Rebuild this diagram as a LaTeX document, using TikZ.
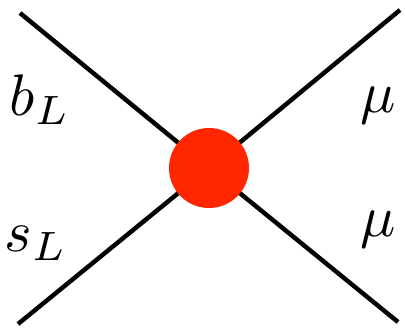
\documentclass[tikz,border=0pt]{standalone}
\usepackage{amsmath}
\usetikzlibrary{calc}
\definecolor{vertexred}{RGB}{255,38,0}
\tikzset{biglabel/.style={scale=5, inner sep=0pt}}

\begin{document}
\begin{tikzpicture}[x=0.03cm, y=-0.03cm]
  \useasboundingbox (0,0) rectangle (405,328);
  % external legs
  \coordinate (bin) at (20,13);
  \coordinate (sin) at (18,324);
  \coordinate (muA) at (400,10);
  \coordinate (muB) at (398,322);
  \coordinate (V) at (209,168);

  \draw[line width=3.8pt] (bin) -- (V) -- (muB);
  \draw[line width=3.8pt] (sin) -- (V) -- (muA);
  % effective vertex
  \fill[vertexred] (V) circle[radius=40];

  \node[biglabel] (lb) at (40,100) {$b_L$};
  \node[biglabel] (ls) at (36,243) {$s_L$};
  \node[biglabel] (lmA) at (378,106) {$\mu$};
  \node[biglabel] (lmB) at (378,230) {$\mu$};
\end{tikzpicture}
\end{document}
